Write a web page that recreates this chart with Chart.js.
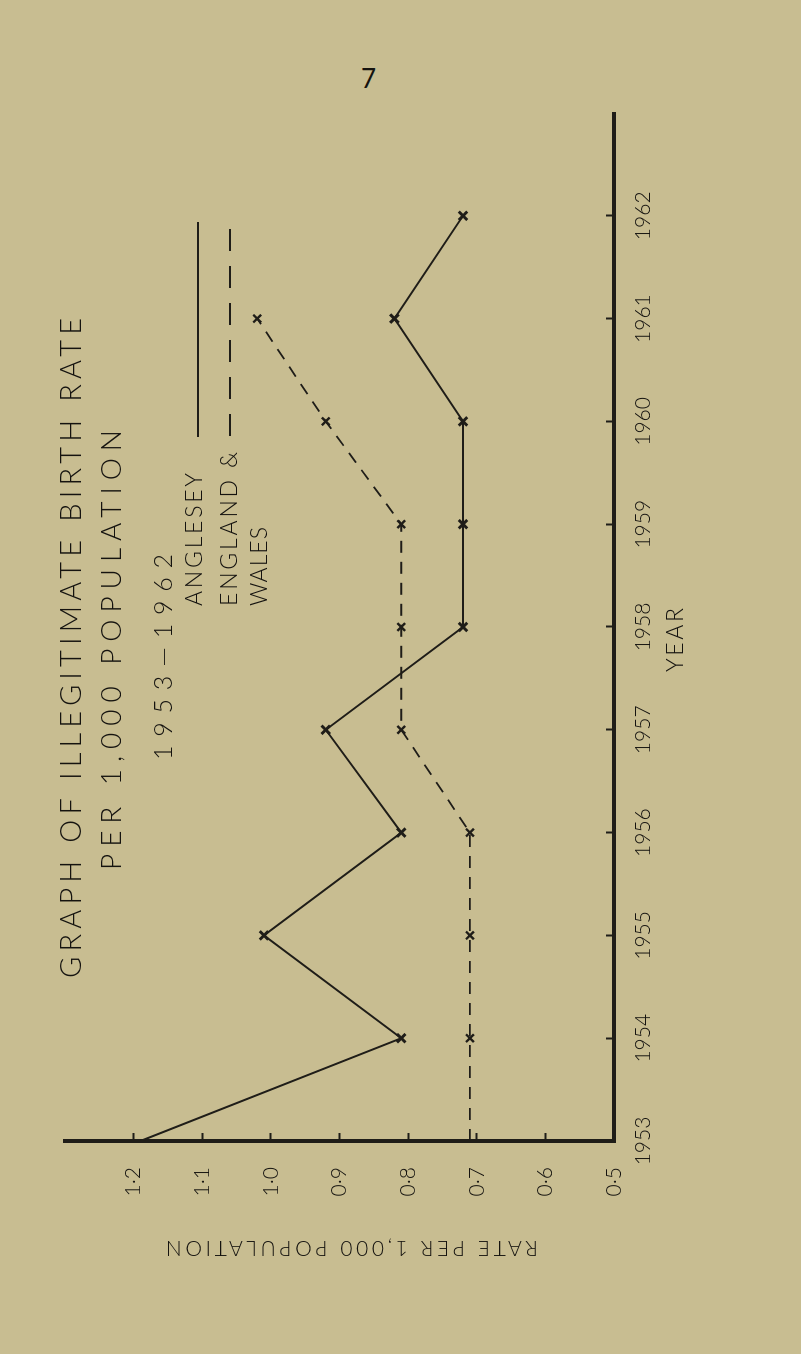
<!DOCTYPE html>
<html>
<head>
<meta charset="utf-8">
<script src="https://cdn.jsdelivr.net/npm/chart.js@4.4.1/dist/chart.umd.min.js"></script>
<style>
    html, body {
        margin: 0;
        padding: 0;
        width: 801px;
        height: 1354px;
        overflow: hidden;
        background: rgb(200, 189, 145);
        font-family: Lato, "DejaVu Sans", sans-serif;
    }
    #page-no {
        position: absolute;
        left: 361px;
        top: 62px;
        font-size: 26px;
        color: #15130f;
    }
    /* the graph is printed sideways: build it landscape and turn it */
    #turned {
        position: absolute;
        left: 0;
        top: 0;
        width: 1354px;
        height: 801px;
        transform-origin: 0 0;
        transform: translate(0px, 1354px) rotate(-90deg);
    }
</style>
</head>
<body>
<div id="page-no">7</div>
<div id="turned">
    <canvas id="birthchart" width="1354" height="801"></canvas>
</div>
<script>
const years = [1953, 1954, 1955, 1956, 1957, 1958, 1959, 1960, 1961, 1962];
const angleseyRate = [1.19, 0.81, 1.01, 0.81, 0.92, 0.72, 0.72, 0.72, 0.82, 0.72];
const englandWalesRate = [0.71, 0.71, 0.71, 0.71, 0.81, 0.81, 0.81, 0.92, 1.02, null];
const rateTicks = [1.2, 1.1, 1.0, 0.9, 0.8, 0.7, 0.6, 0.5];

const ink = '#1f1d18';
const textInk = '#15130f';
const fontName = 'Lato, "DejaVu Sans", sans-serif';

function toPoints(values) {
    return years.map((yr, i) => ({ x: yr, y: values[i] }));
}

// draws text stretched with letter spacing to a given width, left to right
function spacedText(ctx, text, startX, y, width, size) {
    ctx.font = '300 ' + size + 'px ' + fontName;
    ctx.letterSpacing = '0px';
    const w = ctx.measureText(text).width;
    const gap = text.length > 1 ? (width - w) / (text.length - 1) : 0;
    ctx.letterSpacing = gap + 'px';
    ctx.textAlign = 'left';
    ctx.textBaseline = 'middle';
    ctx.fillText(text, startX, y);
    ctx.letterSpacing = '0px';
}

const pageText = {
    id: 'pageText',
    afterDraw(chart) {
        const ctx = chart.ctx;
        ctx.save();
        ctx.fillStyle = textInk;

        // title block
        spacedText(ctx, 'GRAPH OF ILLEGITIMATE BIRTH RATE', 706 - 330, 72, 660, 29);
        spacedText(ctx, 'PER 1,000 POPULATION', 704 - 220, 112, 440, 28);
        spacedText(ctx, '1953\u20141962', 697 - 103, 164, 206, 25);

        // key
        spacedText(ctx, 'ANGLESEY', 748, 195, 133, 23);
        spacedText(ctx, 'ENGLAND &', 748, 230, 154, 23);
        spacedText(ctx, 'WALES', 748, 260, 79, 23);

        ctx.strokeStyle = ink;
        ctx.lineWidth = 2;
        ctx.beginPath();
        ctx.moveTo(917, 198);
        ctx.lineTo(1132, 198);
        ctx.stroke();
        ctx.setLineDash([22, 15]);
        ctx.beginPath();
        ctx.moveTo(918, 230);
        ctx.lineTo(1134, 230);
        ctx.stroke();
        ctx.setLineDash([]);

        // axis names
        spacedText(ctx, 'YEAR', 682, 676, 64, 23);
        ctx.translate(106, 352);
        ctx.rotate(-Math.PI / 2);
        spacedText(ctx, 'RATE PER 1,000 POPULATION', -186, 0, 372, 21);
        ctx.restore();
    }
};

const ctx = document.getElementById('birthchart').getContext('2d');
const config = {
    type: 'line',
    data: {
        datasets: [{
                label: 'ANGLESEY',
                data: toPoints(angleseyRate),
                borderColor: ink,
                borderWidth: 2,
                pointStyle: 'crossRot',
                pointRadius: (c) => c.dataIndex === 0 ? 0 : 6,
                pointBorderWidth: 3,
                pointBorderColor: ink,
                tension: 0
            },
            {
                label: 'ENGLAND & WALES',
                data: toPoints(englandWalesRate),
                borderColor: ink,
                borderWidth: 1.8,
                borderDash: [12, 9],
                pointStyle: 'crossRot',
                pointRadius: (c) => c.dataIndex === 0 ? 0 : 5.5,
                pointBorderWidth: 2.4,
                pointBorderColor: ink,
                spanGaps: false,
                tension: 0
            }
        ]
    },
    options: {
        responsive: false,
        maintainAspectRatio: false,
        animation: false,
        layout: {
            padding: { left: 0, top: 65, right: 113, bottom: 0 }
        },
        plugins: {
            legend: { display: false },
            tooltip: { enabled: false },
            title: { display: false }
        },
        scales: {
            x: {
                type: 'linear',
                position: 'bottom',
                min: 1953,
                max: 1963,
                afterBuildTicks: (scale) => {
                    scale.ticks = years.map(v => ({ value: v }));
                },
                afterFit: (scale) => {
                    scale.height = 187;
                },
                border: { display: true, width: 4, color: ink },
                grid: {
                    drawOnChartArea: false,
                    tickLength: -8,
                    tickWidth: 2,
                    tickColor: ink
                },
                ticks: {
                    padding: 25,
                    maxRotation: 0,
                    autoSkip: false,
                    color: textInk,
                    font: { family: fontName, size: 21, weight: '300' },
                    callback: (v) => String(v)
                }
            },
            y: {
                type: 'linear',
                position: 'left',
                min: 0.5,
                max: 1.3,
                afterBuildTicks: (scale) => {
                    scale.ticks = rateTicks.map(v => ({ value: v }));
                },
                afterFit: (scale) => {
                    scale.width = 213;
                },
                border: { display: true, width: 4, color: ink },
                grid: {
                    drawOnChartArea: false,
                    tickLength: -8,
                    tickWidth: 2,
                    tickColor: ink
                },
                ticks: {
                    padding: 34,
                    autoSkip: false,
                    color: textInk,
                    font: { family: fontName, size: 21, weight: '300' },
                    callback: (v) => v.toFixed(1).replace('.', '\u00b7')
                }
            }
        }
    },
    plugins: [pageText]
};

const birthChart = new Chart(ctx, config);
</script>
</body>
</html>
